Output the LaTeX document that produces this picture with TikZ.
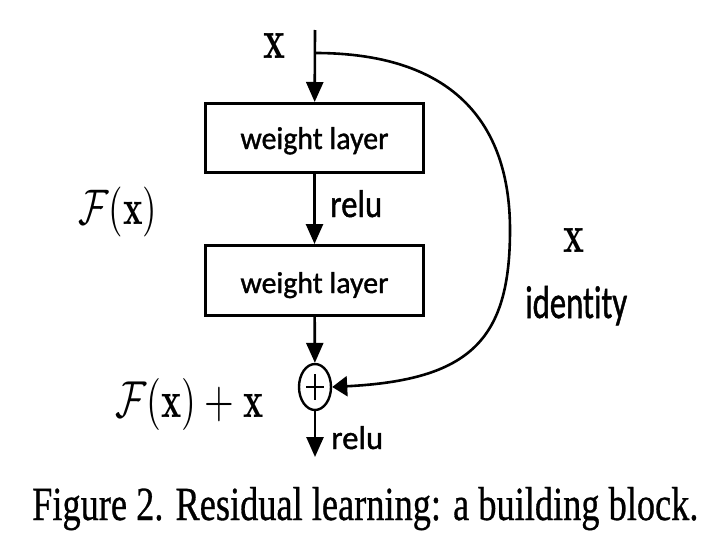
\documentclass[tikz,border=0pt]{standalone}
\usepackage{fontspec}
\usepackage{graphicx}
\setsansfont{Carlito}[Ligatures=NoCommon,FakeBold=1.2]
\newfontfamily\capfont{Liberation Serif}[FakeBold=0.7]
\usetikzlibrary{arrows.meta,shapes.geometric}
\newcommand{\fitbox}[3]{\resizebox{#1pt}{#2pt}{#3}}
\begin{document}
\begin{tikzpicture}[x=1pt,y=-1pt,
  wl/.style={draw, line width=3pt, rectangle, inner sep=0pt, minimum width=218pt, font=\sffamily},
  arr/.style={line width=2.6pt, -{Triangle[length=20pt,width=17pt]}},
  arrh/.style={line width=2.6pt, -{Triangle[length=15pt,width=20pt]}},
  lbl/.style={inner sep=0pt, anchor=base west}]
\useasboundingbox (0,0) rectangle (725,546);
\node[wl, minimum height=69pt, text height=22pt, text depth=0pt] (b1) at (314.5,138) {\fitbox{148}{22}{weight layer}};
\node[wl, minimum height=70pt, text height=25pt, text depth=0pt] (b2) at (314.5,280.5) {\fitbox{148}{21}{weight layer}};
\node[ellipse, draw, line width=2.4pt, minimum width=32pt, minimum height=46pt, inner sep=0pt] (sum) at (315,387) {};
\draw[line width=2.2pt] (sum.center) ++(-9,0) -- ++(18,0);
\draw[line width=2.2pt] (sum.center) ++(0,-13) -- ++(0,26);
\coordinate (in) at (315,30);
\coordinate (split) at (315,53);
\coordinate (out) at (315,457);
\draw[arr] (in) -- (b1);
\draw[arr] (b1) -- (b2);
\draw[arr] (b2) -- (sum);
\draw[arr] (sum) -- (out);
\draw[arrh] (split) .. controls (450,53) and (510,120) .. (510,230) .. controls (510,340) and (470,380) .. (sum.east);
\node[lbl] (xin) at (263,58) {\fitbox{22}{25}{$\mathbf{x}$}};
\node[lbl] (Fx) at (78,224.5) {\fitbox{79}{37.5}{$\mathcal{F}(\mathbf{x})$}};
\node[lbl] (relu1) at (330,217) {\fitbox{52}{27}{\sffamily relu}};
\node[lbl] (xid) at (563,252) {\fitbox{21}{24}{$\mathbf{x}$}};
\node[lbl] (ident) at (525,318) {\fitbox{102}{32}{\sffamily identity}};
\node[lbl] (Fxx) at (115,417) {\fitbox{148}{39}{$\mathcal{F}(\mathbf{x})+\mathbf{x}$}};
\node[lbl] (relu2) at (331,449) {\fitbox{52}{23}{\sffamily relu}};
\node[lbl] (cap) at (32,520) {\fitbox{666}{33}{\capfont Figure 2. Residual learning: a building block.}};
\end{tikzpicture}
\end{document}
